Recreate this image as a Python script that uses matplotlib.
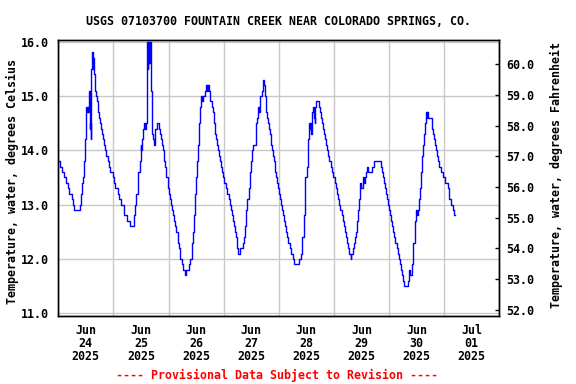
import matplotlib
matplotlib.use('Agg')
import matplotlib.pyplot as plt
import pandas as pd

# ---- data: hours since 2025-06-24 00:00 and water temperature (deg C) ----
hours = [
    0.0, 0.6, 1.5, 2.3, 3.2, 4.1, 4.7, 5.8, 6.3, 7.0, 9.3, 9.7, 10.2, 10.6, 11.2, 11.5,
    12.0, 12.2, 12.5, 12.8, 13.1, 13.5, 13.7, 14.0, 14.1, 14.4, 14.8, 15.1, 15.3, 15.6,
    15.9, 16.3, 16.7, 17.2, 17.6, 18.3, 18.8, 19.1, 19.6, 20.1, 20.4, 20.8, 21.7, 22.1,
    22.6, 23.6, 24.2, 24.9, 25.8, 26.3, 27.1, 28.4, 28.8, 30.1, 31.4, 32.9, 33.6, 34.0,
    34.5, 34.9, 35.5, 35.8, 36.1, 36.4, 36.7, 37.1, 37.8, 38.1, 38.4, 38.7, 38.9, 39.1,
    39.3, 39.5, 39.8, 40.0, 40.3, 40.6, 41.3, 41.6, 41.9, 42.8, 43.8, 44.2, 44.7, 45.1,
    45.6, 46.0, 46.3, 46.7, 47.1, 47.7, 48.1, 48.6, 49.0, 49.4, 49.9, 50.3,
    50.6, 51.4, 51.9, 52.5, 53.1, 53.7, 54.1, 55.1, 55.7, 57.0, 57.5, 58.0, 58.5, 58.9,
    59.4, 59.8, 60.2, 60.7, 61.3, 61.7, 62.1, 62.6, 62.9, 63.7, 64.3, 64.7, 65.0, 65.5,
    65.9, 66.2, 67.1, 67.5, 67.9, 68.4, 68.8, 69.3, 69.7, 70.1, 70.6, 71.0, 71.4, 71.9,
    72.3, 72.9, 73.3, 74.3, 74.8, 75.2, 75.8, 76.2, 76.7, 77.1, 77.5, 78.0, 78.4, 79.0,
    80.2, 80.7, 81.3, 81.9, 82.3, 82.9, 83.4, 83.8, 84.2, 84.7, 86.0, 86.4, 87.0, 87.4,
    87.7, 88.0, 88.7, 89.2, 89.6, 90.1, 90.5, 90.9, 91.4, 91.8, 92.2, 92.7, 93.1, 93.5,
    94.0, 94.4, 94.9, 95.3, 95.7, 96.2, 96.6, 97.0, 97.5, 97.9, 98.3, 98.8, 99.2, 99.7,
    100.1, 100.8,
    101.1, 101.5, 102.0, 102.6, 105.0, 105.5, 105.9, 106.3, 106.8, 107.2, 107.6, 108.1,
    108.5, 109.0, 109.4, 109.8, 110.1, 110.4, 110.8, 111.3, 111.6, 111.7, 112.3, 113.3,
    113.8, 114.2, 114.8, 115.4, 115.8, 116.2, 116.7, 117.1, 117.5, 118.0, 118.6, 119.0,
    119.6, 120.4, 120.7, 121.2, 121.6, 122.0, 122.6, 123.4, 123.8, 124.2, 124.7, 125.1,
    125.5, 126.0, 126.4, 127.3, 127.5, 128.2, 128.6, 129.0, 129.5, 129.9, 130.3, 130.8,
    131.2, 131.6, 132.7, 133.1, 133.5, 134.0, 134.4, 134.8, 136.7, 137.5, 140.4, 140.8,
    141.2, 141.7, 142.1, 142.6, 143.0, 143.4, 143.9, 144.6, 145.0, 145.5, 145.9, 146.3,
    146.8, 147.4, 147.8, 148.2, 148.7, 149.1, 149.5, 150.0, 150.4, 152.4, 152.7, 153.0,
    154.2, 154.6, 155.1, 155.5, 155.9, 156.2, 156.7, 157.1, 157.5, 158.0, 158.4, 158.8,
    159.3, 159.7, 160.0, 160.4, 160.6, 160.9, 162.5, 163.2, 163.6, 164.1, 164.5, 164.9,
    165.4, 165.8, 166.6, 167.4, 168.4, 169.5, 169.9, 170.3, 170.8, 171.9, 172.4, 172.5,
]
temp_c = [
    13.8, 13.7, 13.6, 13.5, 13.4, 13.3, 13.2, 13.1, 13.0, 12.9, 13.0, 13.2, 13.4, 13.5, 13.8, 14.2,
    14.5, 14.8, 14.7, 14.8, 14.7, 15.1, 14.4, 14.5, 14.2, 15.5, 15.8, 15.5, 15.7, 15.4,
    15.1, 15.0, 14.9, 14.7, 14.6, 14.5, 14.4, 14.3, 14.2, 14.1, 14.0, 13.9, 13.8, 13.7,
    13.6, 13.5, 13.4, 13.3, 13.2, 13.1, 13.0, 12.9, 12.8, 12.7, 12.6, 12.8, 13.0, 13.2,
    13.4, 13.6, 13.8, 14.1, 14.0, 14.2, 14.4, 14.5, 14.4, 14.5, 15.2, 16.0, 15.5, 16.0,
    15.6, 16.0, 15.6, 16.0, 15.1, 14.3, 14.2, 14.1, 14.4, 14.5, 14.4, 14.3, 14.2, 14.1,
    14.0, 13.8, 13.7, 13.6, 13.5, 13.3, 13.2, 13.1, 13.0, 12.9, 12.8, 12.7,
    12.6, 12.5, 12.3, 12.2, 12.0, 11.9, 11.8, 11.7, 11.8, 11.9, 12.0, 12.3, 12.5, 12.8,
    13.2, 13.5, 13.8, 14.1, 14.5, 14.8, 15.0, 14.9, 15.0, 15.1, 15.2, 15.1, 15.2, 15.1,
    15.0, 14.9, 14.8, 14.7, 14.5, 14.3, 14.2, 14.1, 14.0, 13.9, 13.8, 13.7, 13.6, 13.5,
    13.4, 13.3, 13.2, 13.1, 13.0, 12.9, 12.8, 12.7, 12.6, 12.5, 12.4, 12.2, 12.1, 12.2,
    12.3, 12.4, 12.6, 12.9, 13.1, 13.3, 13.6, 13.8, 14.0, 14.1, 14.5, 14.6, 14.8, 14.7,
    14.8, 15.0, 15.1, 15.3, 15.2, 15.0, 14.7, 14.6, 14.5, 14.4, 14.3, 14.1, 14.0, 13.9,
    13.8, 13.6, 13.5, 13.4, 13.3, 13.2, 13.1, 13.0, 12.9, 12.8, 12.7, 12.6, 12.5, 12.4,
    12.3, 12.2,
    12.2, 12.1, 12.0, 11.9, 12.0, 12.1, 12.2, 12.4, 12.8, 13.3, 13.5, 13.7,
    14.2, 14.5, 14.4, 14.5, 14.3, 14.7, 14.8, 14.6, 14.5, 14.8, 14.9, 14.8,
    14.7, 14.6, 14.5, 14.4, 14.3, 14.2, 14.1, 14.0, 13.9, 13.8, 13.7, 13.6,
    13.5, 13.4, 13.3, 13.2, 13.1, 13.0, 12.9, 12.8, 12.7, 12.6, 12.5, 12.4,
    12.3, 12.2, 12.1, 12.0, 12.1, 12.2, 12.3, 12.4, 12.5, 12.7, 12.9, 13.1,
    13.4, 13.3, 13.5, 13.4, 13.5, 13.6, 13.7, 13.6, 13.7, 13.8, 13.7, 13.6,
    13.5, 13.4, 13.3, 13.2, 13.1, 13.0, 12.9, 12.8, 12.7, 12.6, 12.5, 12.4,
    12.3, 12.2, 12.1, 12.0, 11.9, 11.8, 11.7, 11.6, 11.5, 11.6, 11.8, 11.7,
    11.9, 12.3, 12.5, 12.7, 12.9, 12.8, 12.9, 13.1, 13.3, 13.6, 13.9, 14.1,
    14.3, 14.5, 14.7, 14.6, 14.7, 14.6, 14.4, 14.3, 14.2, 14.1, 14.0, 13.9,
    13.8, 13.7, 13.6, 13.5, 13.4, 13.3, 13.2, 13.1, 13.0, 12.9, 12.8, 12.8,
]
day_labels = ['Jun\n24\n2025', 'Jun\n25\n2025', 'Jun\n26\n2025', 'Jun\n27\n2025',
              'Jun\n28\n2025', 'Jun\n29\n2025', 'Jun\n30\n2025', 'Jul\n01\n2025']
c_ticks = [11.0, 12.0, 13.0, 14.0, 15.0, 16.0]
f_ticks = [52.0, 53.0, 54.0, 55.0, 56.0, 57.0, 58.0, 59.0, 60.0]

title = 'USGS 07103700 FOUNTAIN CREEK NEAR COLORADO SPRINGS, CO.'
left_label = 'Temperature, water, degrees Celsius'
right_label = 'Temperature, water, degrees Fahrenheit'
footer = '---- Provisional Data Subject to Revision ----'

# ---- plot ----
FONT = 'DejaVu Sans Mono'
FS = 8.4
start = pd.Timestamp('2025-06-24 00:00')
times = start + pd.to_timedelta(hours, unit='h')
midnights = pd.date_range('2025-06-24', '2025-07-02', freq='D')
noons = midnights[:-1] + pd.Timedelta(hours=12)

fig = plt.figure(figsize=(5.76, 3.84), dpi=100)
ax = fig.add_axes([58.3 / 576, 1 - 315.7 / 384, (499.3 - 58.3) / 576, (315.7 - 39.7) / 384])

ax.plot(times, temp_c, color='#0000FF', lw=1.0, drawstyle='steps-post', zorder=3)

ax.set_xlim(midnights[0], midnights[-1])
ax.set_ylim(10.956, 16.035)
ax.set_xticks(noons)
ax.set_xticklabels(day_labels, fontfamily=FONT, fontweight='bold', fontsize=FS,
                   linespacing=1.02)
ax.set_xticks(midnights, minor=True)
ax.set_yticks(c_ticks)
ax.set_yticklabels([f'{v:.1f}' for v in c_ticks], fontfamily=FONT, fontweight='bold', fontsize=FS)
ax.tick_params(axis='x', which='both', length=0, pad=6)
ax.tick_params(axis='y', length=0, pad=7)
ax.grid(which='minor', axis='x', color='#C8C8C8', lw=1.0, zorder=0)
ax.grid(which='major', axis='y', color='#C8C8C8', lw=1.0, zorder=0)
for s in ax.spines.values():
    s.set_linewidth(1.0)
    s.set_color('black')

ax2 = ax.twinx()
ax2.set_ylim(51.80, 60.80)
ax2.set_yticks(f_ticks)
ax2.set_yticklabels([f'{v:.1f}' for v in f_ticks], fontfamily=FONT, fontweight='bold', fontsize=FS)
ax2.tick_params(axis='y', direction='in', length=3, width=1.0, pad=5)
for s in ax2.spines.values():
    s.set_linewidth(1.0)

fig.text(278 / 576, 1 - 21.5 / 384, title, ha='center', va='center',
         fontfamily=FONT, fontweight='bold', fontsize=FS)
fig.text(12 / 576, 1 - 182 / 384, left_label, ha='center', va='center', rotation=90,
         fontfamily=FONT, fontweight='bold', fontsize=FS)
fig.text(556 / 576, 1 - 175 / 384, right_label, ha='center', va='center', rotation=90,
         fontfamily=FONT, fontweight='bold', fontsize=FS)
fig.text(277 / 576, 1 - 375 / 384, footer, ha='center', va='center', color='#FF0000',
         fontfamily=FONT, fontweight='bold', fontsize=FS)

fig.savefig('out.png', dpi=100)
